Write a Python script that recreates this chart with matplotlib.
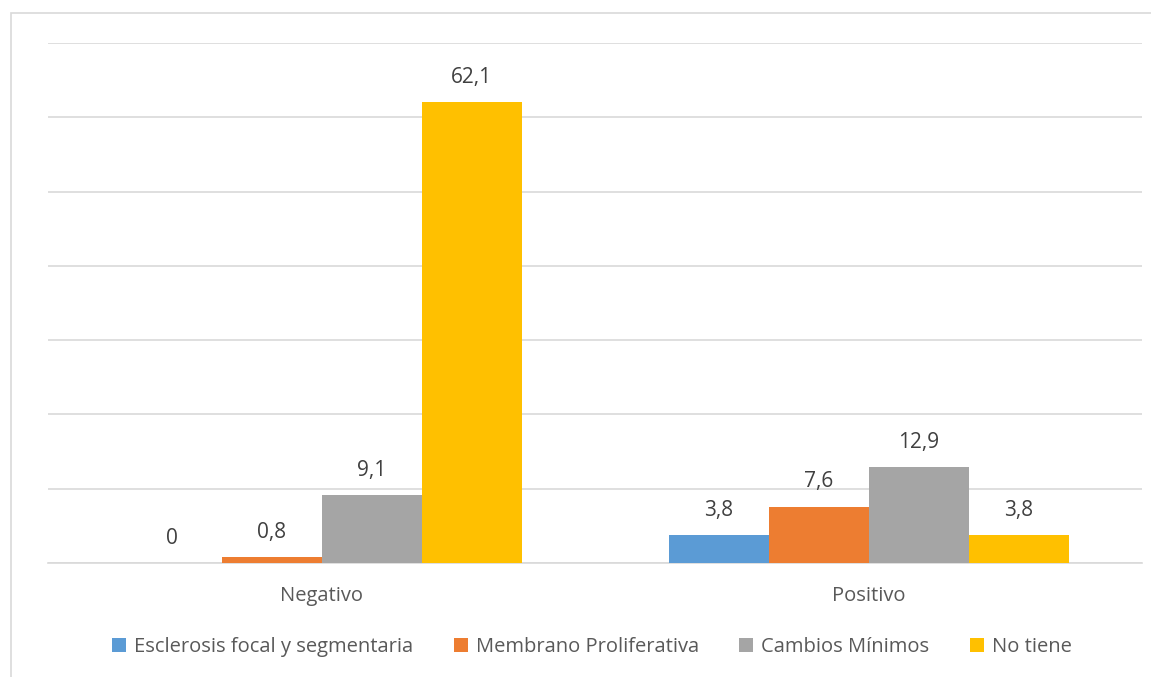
import matplotlib
matplotlib.use("Agg")
import matplotlib.pyplot as plt
from matplotlib.patches import Rectangle
import numpy as np

categories = ["Negativo", "Positivo"]
series_names = ["Esclerosis focal y segmentaria", "Membrano Proliferativa", "Cambios Mínimos", "No tiene"]
esclerosis = [0, 3.8]
membrano = [0.8, 7.6]
cambios = [9.1, 12.9]
no_tiene = [62.1, 3.8]
colors = ["#5B9BD5", "#ED7D31", "#A5A5A5", "#FFC000"]

plt.rcParams['font.family'] = ['Open Sans', 'DejaVu Sans']
W, H = 1151, 677
fig = plt.figure(figsize=(W/100, H/100), dpi=100)
ax = fig.add_axes([48/W, 1-563/H, (1142-48)/W, (563-43)/H])

x = np.arange(len(categories))
bw = 100/547
values = [esclerosis, membrano, cambios, no_tiene]
for i, (name, vals, c) in enumerate(zip(series_names, values, colors)):
    pos = x + (i-1.5)*bw
    ax.bar(pos, vals, bw, color=c, label=name, zorder=3)
    for p, v in zip(pos, vals):
        ax.text(p, v + 1.9, ("%g" % v).replace(".", ","), ha="center", va="bottom",
                fontsize=15, color="#404040")

ax.set_xlim(-0.5, 1.5)
ax.set_ylim(0, 70)
ax.set_yticks(np.arange(0, 71, 10))
ax.yaxis.grid(True, color="#D9D9D9", linewidth=1.2, zorder=0)
ax.tick_params(axis="y", left=False, labelleft=False)
ax.tick_params(axis="x", bottom=False, labelsize=14.5, labelcolor="#595959", pad=13)
ax.set_xticks(x)
ax.set_xticklabels(categories)
for s in ["top", "right", "left"]:
    ax.spines[s].set_visible(False)
ax.spines["bottom"].set_color("#D9D9D9")
ax.spines["bottom"].set_linewidth(1.2)

fig.patches.append(Rectangle((11/W, -0.1), 1.2, 1 - 13/H + 0.1, transform=fig.transFigure,
                             fill=False, edgecolor="#D9D9D9", linewidth=1.2))

leg = fig.legend(loc="center", bbox_to_anchor=(592/W, 1-647/H), ncol=4, frameon=False,
                 fontsize=14.5, handlelength=0.7, handleheight=0.7, handletextpad=0.4,
                 columnspacing=2.0)
for t in leg.get_texts():
    t.set_color("#595959")

fig.savefig("out.png", dpi=100)
